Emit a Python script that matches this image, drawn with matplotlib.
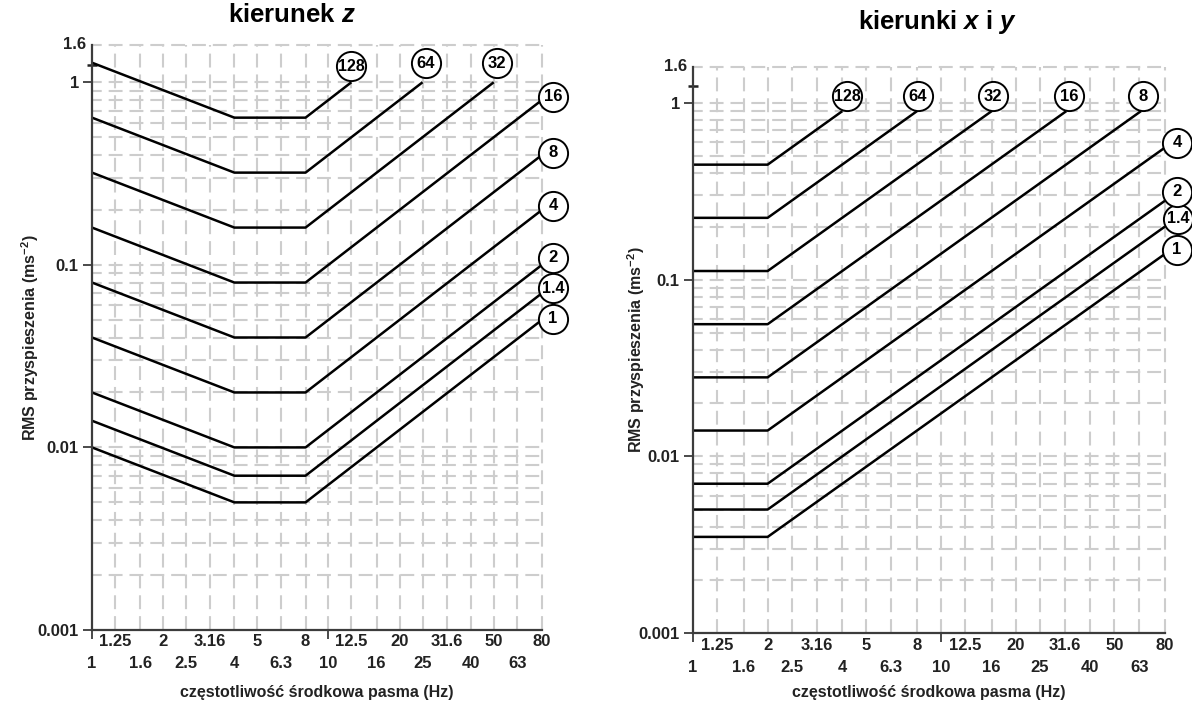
import matplotlib
matplotlib.use('Agg')
import matplotlib.pyplot as plt
from matplotlib.ticker import FixedLocator, NullLocator, NullFormatter
import matplotlib.transforms as mtransforms

plt.rcParams['font.family'] = ['Liberation Sans', 'DejaVu Sans']
plt.rcParams['font.weight'] = 'bold'
plt.rcParams['mathtext.fontset'] = 'custom'
plt.rcParams['mathtext.rm'] = 'Liberation Sans:bold'
plt.rcParams['mathtext.it'] = 'Liberation Sans:italic:bold'
plt.rcParams['mathtext.bf'] = 'Liberation Sans:bold'
plt.rcParams['lines.scale_dashes'] = False

# ---------------- data ----------------
curve_labels = ['1', '1.4', '2', '4', '8', '16', '32', '64', '128']

# kierunek z: vertices (frequency, rms acceleration) of each curve
z_freqs = [
    [1, 4, 8, 80],
    [1, 4, 8, 80],
    [1, 4, 8, 80],
    [1, 4, 8, 80],
    [1, 4, 8, 80],
    [1, 4, 8, 80],
    [1, 4, 8, 50],
    [1, 4, 8, 25],
    [1, 4, 8, 12.5],
]
z_values = [
    [0.01, 0.005, 0.005, 0.05],
    [0.014, 0.007, 0.007, 0.07],
    [0.02, 0.01, 0.01, 0.1],
    [0.04, 0.02, 0.02, 0.2],
    [0.08, 0.04, 0.04, 0.4],
    [0.16, 0.08, 0.08, 0.8],
    [0.32, 0.16, 0.16, 1.0],
    [0.64, 0.32, 0.32, 1.0],
    [1.28, 0.64, 0.64, 1.0],
]

# kierunki x i y
xy_freqs = [
    [1, 2, 80],
    [1, 2, 80],
    [1, 2, 80],
    [1, 2, 80],
    [1, 2, 64],
    [1, 2, 32],
    [1, 2, 16],
    [1, 2, 8],
    [1, 2, 4],
]
xy_values = [
    [0.0035, 0.0035, 0.14],
    [0.005, 0.005, 0.2],
    [0.007, 0.007, 0.28],
    [0.014, 0.014, 0.56],
    [0.028, 0.028, 0.9],
    [0.056, 0.056, 0.9],
    [0.112, 0.112, 0.9],
    [0.224, 0.224, 0.9],
    [0.448, 0.448, 0.9],
]

x_ticks_top = [1.25, 2, 3.16, 5, 8, 12.5, 20, 31.6, 50, 80]
x_ticks_bottom = [1, 1.6, 2.5, 4, 6.3, 10, 16, 25, 40, 63]
x_tick_top_labels = ['1.25', '2', '3.16', '5', '8', '12.5', '20', '31.6', '50', '80']
x_tick_bottom_labels = ['1', '1.6', '2.5', '4', '6.3', '10', '16', '25', '40', '63']
y_ticks = [0.001, 0.01, 0.1, 1]
y_tick_labels = ['0.001', '0.01', '0.1', '1']
y_grid = [k * 10.0 ** e for e in (-3, -2, -1) for k in range(1, 10)] + [1.0, 1.6]

# ---------------- layout (pixels) ----------------
W, H = 1192, 704
px = 0.72  # points per pixel at dpi 100

# label-circle offsets from line end (px right, px up)
z_label_off = [(11, 1), (11, 5), (11, 7), (11, 4), (11, 2), (11, 3), (3, 19), (3, 19), (0, 16)]
xy_label_off = [(12, 4), (13, 8), (12, 9), (12, 5), (2, 15), (3, 15), (1, 15), (1, 15), (5, 15)]

fig = plt.figure(figsize=(W / 100, H / 100), dpi=100)

def make_ax(x0, x1, top, bottom):
    return fig.add_axes([x0 / W, 1 - bottom / H, (x1 - x0) / W, (bottom - top) / H])

ax_z = make_ax(92, 542, 45, 630)
ax_xy = make_ax(693, 1165, 67, 633)

grid_color = '#cdcdcd'
spine_color = '#3c3c3c'
text_color = '#222222'
fs = 12

def style_axis(ax, title, title_pos, ylab_off, row_offs):
    ax.set_xscale('log')
    ax.set_yscale('log')
    ax.set_xlim(1, 80)
    ax.set_ylim(0.001, 1.6)
    for s in ('top', 'right'):
        ax.spines[s].set_visible(False)
    for s in ('left', 'bottom'):
        ax.spines[s].set_color(spine_color)
        ax.spines[s].set_linewidth(1.6)
        ax.spines[s].set_zorder(4)
    # grid
    gx = [v for v in x_ticks_top + x_ticks_bottom if v > 1]
    ax.vlines(gx, 0.001, 1.6, colors=grid_color, linewidth=1.5,
              linestyles=[(0, (10, 5))], zorder=1, clip_on=False)
    gy = [v for v in y_grid if v > 0.001]
    ax.hlines(gy, 1, 80, colors=grid_color, linewidth=1.5,
              linestyles=[(3, (10, 5))], zorder=1, clip_on=False)
    # ticks
    ax.xaxis.set_major_locator(FixedLocator([1, 10]))
    ax.xaxis.set_major_formatter(NullFormatter())
    ax.xaxis.set_minor_locator(NullLocator())
    ax.tick_params(axis='x', which='major', direction='out', length=6.5, width=1.3,
                   color=spine_color)
    ax.yaxis.set_major_locator(FixedLocator(y_ticks))
    ax.set_yticklabels(y_tick_labels)
    ax.yaxis.set_minor_locator(FixedLocator([1.25]))
    ax.yaxis.set_minor_formatter(NullFormatter())
    ax.tick_params(axis='y', which='major', direction='out', length=6.5, width=1.3,
                   color=spine_color, labelsize=fs, pad=3, labelcolor=text_color)
    ax.tick_params(axis='y', which='minor', direction='inout', length=7, width=1.8,
                   color=text_color)
    for lab in ax.get_yticklabels():
        lab.set_fontweight('bold')
    # top label 1.6
    tr = mtransforms.blended_transform_factory(ax.transAxes, ax.transData)
    ax.text(-0.012, 1.62, '1.6', transform=tr, ha='right', va='center',
            fontsize=fs, fontweight='bold', color=text_color)
    # x tick labels (two rows)
    for v, lab in zip(x_ticks_top, x_tick_top_labels):
        ax.annotate(lab, xy=(v, 0), xycoords=('data', 'axes fraction'),
                    xytext=(0, -row_offs[0] * px), textcoords='offset points',
                    ha='center', va='center', fontsize=fs, fontweight='bold',
                    color=text_color, annotation_clip=False)
    for v, lab in zip(x_ticks_bottom, x_tick_bottom_labels):
        ax.annotate(lab, xy=(v, 0), xycoords=('data', 'axes fraction'),
                    xytext=(0, -row_offs[1] * px), textcoords='offset points',
                    ha='center', va='center', fontsize=fs, fontweight='bold',
                    color=text_color, annotation_clip=False)
    ax.annotate('częstotliwość środkowa pasma (Hz)', xy=(0.5, 0), xycoords='axes fraction',
                xytext=(0, -row_offs[2] * px), textcoords='offset points',
                ha='center', va='center', fontsize=11.5, fontweight='bold', color=text_color)
    ax.annotate(r'RMS przyspieszenia (ms$^{-2}$)', xy=(0, 0.5), xycoords='axes fraction',
                xytext=(-ylab_off * px, 0), textcoords='offset points', rotation=90,
                ha='center', va='center', fontsize=11.5, fontweight='bold', color=text_color)
    ax.text(title_pos[0], title_pos[1], title, transform=ax.transAxes, ha='center',
            va='center', fontsize=18.5, fontweight='bold', color='black')


def draw_curves(ax, freqs, values, offs):
    for f, v, lab, (dx, dy) in zip(freqs, values, curve_labels, offs):
        ax.plot(f, v, color='black', linewidth=1.8, zorder=3, solid_capstyle='butt',
                clip_on=False)
        trans = mtransforms.offset_copy(ax.transData, fig=fig, x=dx * px, y=dy * px,
                                        units='points')
        ax.plot([f[-1]], [v[-1]], marker='o', markersize=21, markerfacecolor='white',
                markeredgecolor='black', markeredgewidth=1.4, transform=trans,
                zorder=5, clip_on=False)
        ax.text(f[-1], v[-1], lab, transform=trans, ha='center', va='center',
                fontsize=12 if len(lab) < 3 else 11.5, fontweight='bold', zorder=6,
                clip_on=False)


style_axis(ax_z, r'kierunek $z$', ((292 - 92) / 450, 1 + 30 / 585), 62, (12, 34, 62))
style_axis(ax_xy, r'kierunki $x$ i $y$', ((938 - 693) / 472, 1 + 45 / 566), 57, (12, 35, 60))
draw_curves(ax_z, z_freqs, z_values, z_label_off)
draw_curves(ax_xy, xy_freqs, xy_values, xy_label_off)

fig.savefig('out.png', dpi=100, facecolor='white')
